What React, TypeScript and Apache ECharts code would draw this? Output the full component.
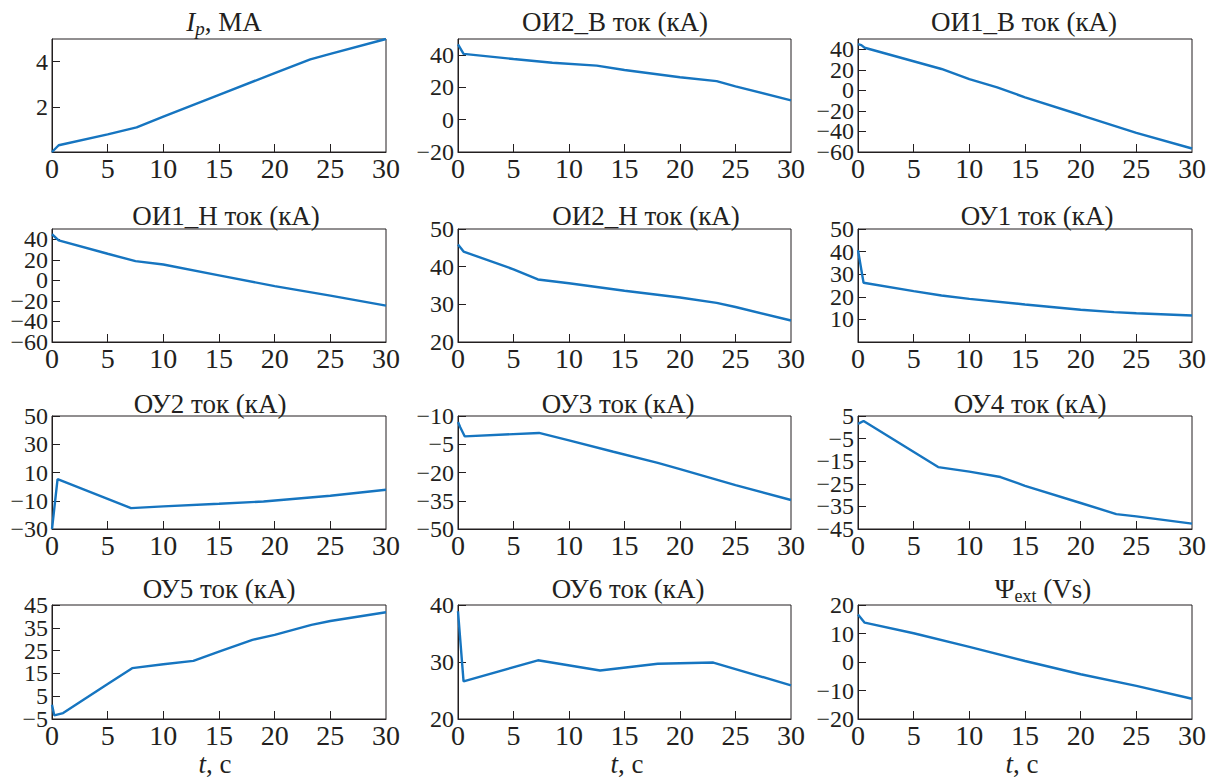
import React, { useEffect, useRef } from 'react';
import * as echarts from 'echarts';

// ---- data: [t (s), value] ----
const ipData = [[0, 0], [0.6, 0.3], [5, 0.78], [7.6, 1.09], [10, 1.57], [15, 2.53], [20, 3.49], [23.2, 4.1], [25, 4.34], [30, 5.0]];
const oi2bData = [[0, 46.7], [0.5, 40.8], [5, 37.6], [8.5, 35.3], [12.5, 33.5], [15, 30.8], [20, 26.3], [23.3, 23.9], [25, 20.6], [30, 12.0]];
const oi1bData = [[0, 45], [0.3, 44], [0.6, 41.5], [7.5, 20.8], [10, 11], [12.5, 2.9], [15, -6.8], [20, -24], [25, -41.3], [30, -56.6]];
const oi1nData = [[0, 44.9], [0.6, 39], [5, 25.9], [7.5, 18.7], [10, 15.4], [15, 4.9], [20, -5.6], [25, -14.8], [30, -24.6]];
const oi2nData = [[0, 45.9], [0.5, 44], [5, 39.3], [7.2, 36.6], [10, 35.6], [15, 33.6], [20, 31.8], [23.3, 30.4], [25, 29.3], [30, 25.7]];
const ou1Data = [[0, 40.6], [0.5, 26.2], [5, 22.5], [7.5, 20.6], [10, 19.1], [15, 16.6], [20, 14.3], [23, 13.2], [25, 12.7], [30, 11.7]];
const ou2Data = [[0, -30], [0.5, 5.3], [7.1, -15.2], [10, -14], [15, -12.1], [19, -10.5], [25, -6.5], [30, -2.2]];
const ou3Data = [[0, 6.8], [0.2, 4], [0.6, -0.8], [7.3, 1.0], [10, -2.9], [14, -9], [18, -14.9], [20, -18.2], [25, -26.7], [30, -34.6]];
const ou4Data = [[0, 1.5], [0.5, 2.8], [7.2, -17.6], [10, -19.6], [12.8, -22], [15, -25.9], [20, -33.5], [23.2, -38.4], [25, -39.4], [30, -42.6]];
const ou5Data = [[0, 1.3], [0.2, -3.4], [1, -2.4], [5, 10.3], [7.2, 17.3], [10, 19], [12.7, 20.5], [15, 24.6], [18, 29.7], [20, 31.9], [23.3, 36.3], [25, 38], [30, 41.8]];
const ou6Data = [[0, 38.9], [0.5, 26.6], [7.2, 30.3], [12.8, 28.5], [18, 29.7], [23, 29.9], [30, 25.9]];
const psiData = [[0, 16.7], [0.6, 13.8], [5, 10.1], [10, 5.3], [15, 0.35], [20, -4.3], [25, -8.4], [30, -12.9]];

// ---- x axis ----
const xLabelValues = [0, 5, 10, 15, 20, 25, 30];
const xTickValues = [5, 10, 15, 20, 25];

// ---- y axis ranges / ticks / labels ----
const ipY = { min: 0, max: 5, ticks: [2, 4], labels: ['2', '4'] };
const oi2bY = { min: -20, max: 50, ticks: [-20, 0, 20, 40], labels: ['−20', '0', '20', '40'] };
const oi1bY = { min: -60, max: 50, ticks: [-60, -40, -20, 0, 20, 40], labels: ['−60', '−40', '−20', '0', '20', '40'] };
const oi1nY = { min: -60, max: 50, ticks: [-60, -40, -20, 0, 20, 40], labels: ['−60', '−40', '−20', '0', '20', '40'] };
const oi2nY = { min: 20, max: 50, ticks: [20, 30, 40, 50], labels: ['20', '30', '40', '50'] };
const ou1Y = { min: 0, max: 50, ticks: [10, 20, 30, 40, 50], labels: ['10', '20', '30', '40', '50'] };
const ou2Y = { min: -30, max: 50, ticks: [-30, -10, 10, 30, 50], labels: ['−30', '−10', '10', '30', '50'] };
const ou3Y = { min: -50, max: 10, ticks: [-50, -35, -20, -5, 10], labels: ['−50', '−35', '−20', '−5', '−10'] };
const ou4Y = { min: -45, max: 5, ticks: [-45, -35, -25, -15, -5, 5], labels: ['−45', '−35', '−25', '−15', '−5', '5'] };
const ou5Y = { min: -5, max: 45, ticks: [-5, 5, 15, 25, 35, 45], labels: ['−5', '5', '15', '25', '35', '45'] };
const ou6Y = { min: 20, max: 40, ticks: [20, 30, 40], labels: ['20', '30', '40'] };
const psiY = { min: -20, max: 20, ticks: [-20, -10, 0, 10, 20], labels: ['−20', '−10', '0', '10', '20'] };

const panelTitles = [
  '{i|I}{si|p}{n|, МА}',
  'ОИ2_В ток (кА)',
  'ОИ1_В ток (кА)',
  'ОИ1_Н ток (кА)',
  'ОИ2_Н ток (кА)',
  'ОУ1 ток (кА)',
  'ОУ2 ток (кА)',
  'ОУ3 ток (кА)',
  'ОУ4 ток (кА)',
  'ОУ5 ток (кА)',
  'ОУ6 ток (кА)',
  '{n|Ψ}{s|ext}{n| (Vs)}',
];
const xTitle = '{xi|t}{xn|, с}';

const panelData = [ipData, oi2bData, oi1bData, oi1nData, oi2nData, ou1Data, ou2Data, ou3Data, ou4Data, ou5Data, ou6Data, psiData];
const panelY = [ipY, oi2bY, oi1bY, oi1nY, oi2nY, ou1Y, ou2Y, ou3Y, ou4Y, ou5Y, ou6Y, psiY];

// ---- layout ----
const colLeft = [52, 458, 858];
const colWidth = [334, 333, 334];
const rowTop = [39, 229, 416, 605];
const rowHeight = [113, 113, 113, 114];
const titlePos = [
  [224, 22], [615, 22], [1024, 22],
  [226, 216], [646, 216], [1037, 216],
  [210, 404], [618, 404], [1030, 404],
  [219, 589], [628, 589], [1043, 589],
];
const xTitlePos = [[215, 764], [627, 764], [1022, 764]];

const FONT = 'Liberation Serif';
const INK = '#231f20';
const LINE = '#1675c0';

const richStyles = {
  n: { fontSize: 27, fontFamily: FONT, fill: INK, color: INK, lineHeight: 32, verticalAlign: 'middle' },
  i: { fontSize: 27, fontFamily: FONT, fontStyle: 'italic', fill: INK, color: INK, lineHeight: 32, verticalAlign: 'middle' },
  s: { fontSize: 18, fontFamily: FONT, fill: INK, color: INK, lineHeight: 14, verticalAlign: 'bottom' },
  si: { fontSize: 19, fontFamily: FONT, fontStyle: 'italic', fill: INK, color: INK, lineHeight: 14, verticalAlign: 'bottom' },
  xn: { fontSize: 27, fontFamily: FONT, fill: INK, color: INK, lineHeight: 22, verticalAlign: 'middle' },
  xi: { fontSize: 27, fontFamily: FONT, fontStyle: 'italic', fill: INK, color: INK, lineHeight: 22, verticalAlign: 'middle' },
};

function yLabelAxis(k: number, yc: any, vals: number[], primary: boolean) {
  return {
    type: 'value', gridIndex: k, min: yc.min, max: yc.max, position: 'left', offset: 0,
    axisLine: { show: primary, onZero: false, lineStyle: { color: INK, width: 1 } },
    axisTick: { show: primary, inside: true, length: 8, customValues: yc.ticks, lineStyle: { color: INK, width: 1 } },
    axisLabel: {
      show: vals.length > 0, margin: 4, customValues: vals.length ? vals : [yc.min], interval: 0,
      showMinLabel: true, showMaxLabel: true, hideOverlap: false,
      fontSize: 24, lineHeight: 18, fontFamily: FONT, color: INK,
      formatter: (v: number) => {
        const idx = yc.ticks.findIndex((t: number) => Math.abs(t - v) < 1e-9);
        return idx >= 0 ? yc.labels[idx] : '';
      },
    },
    splitLine: { show: false },
  };
}

export default function App() {
  const ref = useRef<HTMLDivElement>(null);
  useEffect(() => {
    if (!ref.current) return;
    const chart = echarts.init(ref.current, null, { renderer: 'svg' });
    const grids: any[] = [];
    const xAxes: any[] = [];
    const yAxes: any[] = [];
    const series: any[] = [];
    const graphics: any[] = [];
    for (let k = 0; k < 12; k++) {
      const r = Math.floor(k / 3);
      const c = k % 3;
      const yc = panelY[k];
      grids.push({
        left: colLeft[c], top: rowTop[r], width: colWidth[c], height: rowHeight[r],
        show: true, borderColor: INK, borderWidth: 1, backgroundColor: 'transparent',
        containLabel: false, outerBoundsMode: 'none',
      });
      xAxes.push({
        type: 'value', gridIndex: k, min: 0, max: 30,
        axisLine: { show: true, onZero: false, lineStyle: { color: INK, width: 1 } },
        axisTick: { show: true, inside: true, length: 8, customValues: xTickValues, lineStyle: { color: INK, width: 1 } },
        axisLabel: {
          show: true, margin: 5, customValues: xLabelValues, interval: 0,
          showMinLabel: true, showMaxLabel: true, hideOverlap: false,
          fontSize: 28, lineHeight: 22, fontFamily: FONT, color: INK,
        },
        splitLine: { show: false },
      });
      const evenVals = yc.ticks.filter((_: number, i: number) => i % 2 === 0);
      const oddVals = yc.ticks.filter((_: number, i: number) => i % 2 === 1);
      yAxes.push(yLabelAxis(k, yc, evenVals, true));
      yAxes.push(yLabelAxis(k, yc, oddVals, false));
      series.push({
        type: 'line', xAxisIndex: k, yAxisIndex: 2 * k, data: panelData[k],
        showSymbol: false, symbol: 'none', smooth: false,
        lineStyle: { color: LINE, width: 2.4 }, itemStyle: { color: LINE },
        clip: true,
      });
      const title = panelTitles[k];
      graphics.push({
        type: 'text', x: titlePos[k][0], y: titlePos[k][1],
        style: {
          text: title.startsWith('{') ? title : '{n|' + title + '}',
          rich: richStyles, align: 'center', verticalAlign: 'middle',
          fontSize: 27, fontFamily: FONT, fill: INK,
        },
      });
    }
    for (let c = 0; c < 3; c++) {
      graphics.push({
        type: 'text', x: xTitlePos[c][0], y: xTitlePos[c][1],
        style: { text: xTitle, rich: richStyles, align: 'center', verticalAlign: 'middle', fontSize: 27, fontFamily: FONT, fill: INK },
      });
    }
    chart.setOption({
      animation: false,
      backgroundColor: '#ffffff',
      grid: grids,
      xAxis: xAxes,
      yAxis: yAxes,
      series,
      graphic: graphics,
    });
    return () => chart.dispose();
  }, []);
  return <div ref={ref} style={{ position: 'absolute', left: 0, top: 0, width: 1216, height: 781 }} />;
}
